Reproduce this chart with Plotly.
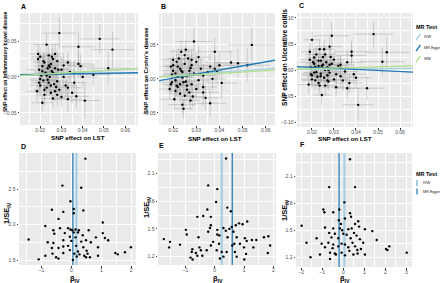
import plotly.graph_objects as go

# ---------------- data: SNP effects (panels A-C) ----------------
snp_lst = [0.0185,0.019,0.0195,0.020,0.020,0.0205,0.021,0.021,0.0215,0.022,
           0.022,0.0225,0.023,0.023,0.0235,0.024,0.024,0.0245,0.025,0.025,
           0.0255,0.026,0.026,0.0265,0.027,0.027,0.0275,0.028,0.028,0.029,
           0.029,0.030,0.030,0.031,0.032,0.033,0.033,0.034,0.035,0.036,
           0.037,0.038,0.038,0.039,0.040,0.041,0.045,0.048,0.052,0.054,
           0.019,0.020,0.021,0.022,0.023,0.024,0.025,0.026,0.027,0.028,
           0.0195,0.0215,0.0235,0.0255,0.0275,0.0285,0.031,0.033,0.036,0.0245]
se_lst = [0.005,0.004,0.006,0.005,0.004,0.006,0.005,0.004,0.006,0.005,
          0.004,0.005,0.006,0.004,0.005,0.006,0.005,0.004,0.006,0.005,
          0.004,0.006,0.005,0.004,0.006,0.005,0.004,0.006,0.005,0.008,
          0.005,0.006,0.005,0.006,0.005,0.007,0.006,0.007,0.006,0.007,
          0.006,0.008,0.007,0.006,0.007,0.007,0.008,0.009,0.010,0.010,
          0.004,0.005,0.004,0.005,0.004,0.005,0.004,0.005,0.004,0.005,
          0.004,0.005,0.004,0.005,0.004,0.005,0.005,0.006,0.006,0.004]
ibd = [-0.020,0.025,0.010,-0.012,0.028,0.002,-0.036,0.015,-0.005,0.020,
       -0.025,0.006,0.045,-0.015,0.012,-0.008,0.030,0.000,-0.022,0.018,
       0.008,-0.030,0.025,-0.010,0.012,-0.020,0.004,0.022,-0.006,0.061,
       -0.018,0.010,-0.028,0.016,-0.012,-0.031,-0.015,0.007,-0.022,0.005,
       -0.027,0.042,0.018,0.015,0.000,-0.033,0.003,0.053,0.012,0.038,
       0.032,-0.003,0.008,-0.018,0.002,0.016,-0.012,0.006,0.032,-0.025,
       -0.008,0.022,-0.004,0.028,-0.014,0.010,0.000,0.020,-0.008,0.014]
se_ibd = [0.015,0.012,0.014,0.016,0.013,0.015,0.012,0.014,0.016,0.013,
          0.015,0.014,0.016,0.012,0.015,0.013,0.014,0.016,0.012,0.015,
          0.014,0.013,0.015,0.012,0.016,0.014,0.013,0.015,0.012,0.022,
          0.014,0.016,0.013,0.015,0.014,0.018,0.016,0.017,0.015,0.018,
          0.016,0.020,0.018,0.016,0.018,0.025,0.015,0.020,0.022,0.025,
          0.013,0.015,0.012,0.014,0.013,0.015,0.012,0.014,0.013,0.015,
          0.012,0.014,0.013,0.015,0.012,0.014,0.016,0.015,0.017,0.013]
cd = [-0.015,0.018,-0.005,0.012,0.020,-0.030,0.008,-0.018,0.025,0.003,
      -0.012,0.030,0.015,-0.022,0.040,-0.038,0.010,-0.005,0.022,-0.025,
      0.043,0.005,-0.010,0.030,-0.020,0.012,-0.032,0.020,-0.008,0.055,
      0.008,-0.015,0.025,-0.002,0.015,-0.020,0.005,-0.028,0.010,-0.036,
      0.000,0.040,0.015,0.010,0.020,-0.006,0.024,0.023,0.020,0.050,
      -0.008,0.028,-0.002,0.018,-0.008,0.002,0.035,-0.016,0.006,0.028,
      0.006,-0.010,0.012,-0.004,0.016,-0.026,0.032,-0.012,0.018,-0.044]
se_cd = [0.016,0.014,0.015,0.017,0.013,0.016,0.014,0.015,0.017,0.014,
         0.016,0.015,0.017,0.013,0.016,0.014,0.015,0.017,0.013,0.016,
         0.015,0.014,0.016,0.013,0.017,0.015,0.014,0.016,0.013,0.020,
         0.015,0.017,0.014,0.016,0.015,0.019,0.017,0.018,0.016,0.020,
         0.017,0.020,0.019,0.017,0.019,0.022,0.018,0.021,0.024,0.026,
         0.014,0.016,0.013,0.015,0.014,0.016,0.013,0.015,0.014,0.016,
         0.013,0.015,0.014,0.016,0.013,0.015,0.017,0.016,0.018,0.014]
uc = [-0.028,0.020,0.005,-0.010,0.058,0.015,-0.005,0.012,-0.020,0.030,
      0.002,-0.013,0.008,-0.025,0.040,0.018,-0.007,-0.048,0.010,0.025,
      -0.015,0.000,-0.030,0.015,-0.010,0.005,-0.022,0.045,-0.005,0.066,
      0.012,-0.018,0.020,-0.033,0.008,-0.012,0.004,-0.020,-0.003,0.015,
      -0.025,0.035,0.028,-0.008,-0.015,-0.067,-0.035,0.069,0.016,0.034,
      0.035,-0.018,0.024,-0.004,0.018,-0.012,0.003,0.030,-0.020,0.010,
      -0.008,0.006,-0.030,0.040,0.000,0.025,-0.008,0.010,-0.035,0.008]
se_uc = [0.018,0.016,0.017,0.019,0.015,0.018,0.016,0.017,0.019,0.016,
         0.018,0.017,0.019,0.015,0.018,0.016,0.017,0.019,0.015,0.018,
         0.017,0.016,0.018,0.015,0.019,0.017,0.016,0.018,0.015,0.025,
         0.017,0.019,0.016,0.018,0.017,0.021,0.019,0.020,0.018,0.022,
         0.019,0.022,0.021,0.019,0.021,0.030,0.024,0.025,0.026,0.028,
         0.016,0.018,0.015,0.017,0.016,0.018,0.015,0.017,0.016,0.018,
         0.015,0.017,0.016,0.018,0.015,0.017,0.019,0.018,0.020,0.016]

# MR estimates per outcome (IBD, CD, UC)
ivw_beta = [0.17, 0.24, 0.05]
egger_beta = [0.05, 0.60, -0.20]
egger_int = [0.0025, -0.011, 0.009]
wm_beta = [0.18, 0.20, 0.12]

# ---------------- data: funnel plots (panels D-F) ----------------
d_beta = [0.47,-0.30,0.33,-0.03,-0.65,-0.27,0.08,0.40,0.08,-0.43,1.05,-0.87,-0.38,-0.11,
          -0.60,-0.03,0.03,0.14,0.25,0.58,-0.57,-0.22,0.08,0.22,0.38,1.05,0.82,-0.05,0.14,
          -1.43,-0.79,-0.60,-0.27,0.00,0.33,0.49,0.65,1.12,1.23,-0.65,-0.43,-0.27,-0.11,
          0.16,0.40,0.89,-0.05,0.22,0.51,-0.63,-0.27,0.10,0.27,0.54,1.47,1.55,1.79,1.99,
          -0.87,-0.51,-0.43,0.18,0.43,0.49,0.89,-1.09,0.05,0.62]
d_prec = [2.93,2.55,2.52,2.33,2.21,2.18,2.22,2.20,2.16,2.08,2.03,1.98,1.95,1.95,
          1.92,1.93,1.92,1.93,1.92,1.92,1.87,1.88,1.89,1.89,1.85,1.88,1.82,1.83,1.82,
          1.79,1.75,1.74,1.78,1.77,1.76,1.78,1.75,1.81,1.78,1.67,1.67,1.69,1.70,
          1.70,1.68,1.68,1.64,1.62,1.63,1.59,1.60,1.59,1.58,1.59,1.60,1.58,1.61,1.68,
          1.56,1.54,1.52,1.55,1.56,1.54,1.56,1.51,1.50,1.54]
e_beta = [0.39,-0.22,0.09,0.05,0.43,-0.25,0.55,-0.13,-0.59,-0.39,1.11,0.83,0.95,0.72,
          -0.13,-0.16,-0.98,-0.95,-0.22,0.09,0.38,0.50,0.30,0.58,0.64,0.09,0.16,-0.55,
          0.44,0.75,1.03,1.09,1.27,1.42,1.83,1.68,-1.73,-1.52,-1.55,-1.18,-0.05,0.15,
          0.60,0.67,0.86,1.00,1.89,1.32,-0.76,-0.52,-0.47,-0.27,-0.13,0.07,0.24,0.41,
          0.69,1.07,1.81,-0.78,-0.64,-0.59,-0.42,-0.82,-0.75,0.18,0.30,1.01,0.75]
e_prec = [2.26,1.97,1.93,1.79,1.73,1.71,1.69,1.63,1.63,1.64,1.58,1.56,1.55,1.54,
          1.54,1.51,1.49,1.44,1.47,1.49,1.48,1.50,1.51,1.52,1.47,1.44,1.43,1.41,
          1.41,1.41,1.40,1.37,1.38,1.38,1.42,1.41,1.39,1.36,1.30,1.33,1.36,1.34,
          1.32,1.34,1.34,1.30,1.32,1.30,1.28,1.30,1.27,1.27,1.32,1.27,1.25,1.25,
          1.25,1.23,1.24,1.25,1.24,1.21,1.21,1.19,1.17,1.18,1.20,1.17,1.20]
f_beta = [0.32,-0.67,0.56,0.05,-0.95,-0.90,-0.48,-0.19,0.32,-0.21,0.08,0.37,-0.11,0.71,
          0.56,-1.98,-0.87,-0.48,-0.16,-0.05,0.24,0.40,0.75,1.03,1.38,-0.67,-0.40,0.00,
          0.16,0.51,0.63,-1.27,-0.56,-0.24,0.35,0.79,1.59,-1.75,-1.03,-0.71,-0.48,-0.08,
          0.08,0.44,0.95,-0.87,-0.51,-0.24,0.24,0.56,0.29,0.67,0.84,2.03,2.10,2.19,
          -0.63,-0.40,-0.08,0.48,0.68,1.03,-1.11,-1.56,-0.63,-0.35,3.02,0.08]
f_prec = [2.29,1.98,1.98,1.81,1.73,1.70,1.70,1.73,1.69,1.61,1.63,1.65,1.57,1.60,
          1.57,1.55,1.53,1.52,1.52,1.50,1.51,1.52,1.54,1.51,1.49,1.47,1.46,1.46,
          1.45,1.47,1.44,1.41,1.42,1.41,1.41,1.40,1.39,1.36,1.35,1.36,1.34,1.35,
          1.34,1.36,1.36,1.31,1.30,1.32,1.31,1.32,1.27,1.28,1.29,1.29,1.28,1.32,
          1.25,1.24,1.25,1.23,1.24,1.23,1.23,1.20,1.18,1.23,1.25,1.22]

top_titles = ["SNP effect on Inflammatory bowel disease", "SNP effect on Crohn's disease",
              "SNP effect on Ulcerative colitis"]
top_xtitle = "SNP effect on LST"
panel_letters = ["A", "B", "C", "D", "E", "F"]
top_yticks = [[-0.05, 0.00, 0.05], [-0.05, 0.00, 0.05], [-0.10, -0.05, 0.00, 0.05, 0.10]]
top_xticks = [0.02, 0.03, 0.04, 0.05, 0.06]
bot_yticks = [[1.5, 2.0, 2.5], [1.2, 1.5, 1.8, 2.1], [1.2, 1.5, 1.8, 2.1]]
bot_xticks = [[-1, 0, 1, 2], [-1, 0, 1, 2], [-2, -1, 0, 1, 2, 3]]

# ---------------- styling / layout ----------------
W, H = 440, 283
C_IVW, C_EGG, C_WM = "#A6CEE3", "#1F78B4", "#B2DF8A"
FONT = "Liberation Sans, Arial, sans-serif"

top_boxes = [(20, 138, 13, 125), (159, 275, 13, 125), (297, 413, 13, 127)]
bot_boxes = [(19, 136, 153, 265), (158, 276, 153, 265), (296, 412, 153, 267)]
top_xr = [(0.0105, 0.066), (0.0139, 0.064), (0.0132, 0.0659)]
top_yr = [(-0.067, 0.089), (-0.068, 0.097), (-0.1096, 0.1096)]
bot_xr = [(-1.75, 2.16), (-1.93, 2.09), (-2.25, 3.27)]
bot_yr = [(1.43, 3.01), (1.11, 2.32), (1.09, 2.36)]
# text placement (pixels)
top_xt_pos = [(78, 137), (215, 138), (345, 139)]
top_yt_pos = [(5, 62, 5.0), (146, 71, 6.0), (284, 58, 6.6)]
bot_xt_pos = [(75, 279), (218, 279), (345, 279)]
bot_yt_pos = [(7, 213), (147, 207), (285, 210)]
letter_pos = [(19, 6), (159, 6), (297, 5), (19, 146), (157, 145), (298, 144)]

def xd(l, r):
    return [l / W, r / W]

def yd(t, b):
    return [1 - b / H, 1 - t / H]

def px(x):
    return x / W

def py(y):
    return 1 - y / H

fig = go.Figure()
layout = dict(width=W, height=H, margin=dict(l=0, r=0, t=0, b=0, autoexpand=False),
              paper_bgcolor="white", plot_bgcolor="#EBEBEB", showlegend=False,
              font=dict(family=FONT, color="#000000"))
annotations, shapes = [], []

def txt(text, x, y, size, angle=0, xanchor="center", color="#000000"):
    annotations.append(dict(text=text, x=px(x), y=py(y), xref="paper", yref="paper",
                            showarrow=False, textangle=angle, xanchor=xanchor,
                            yanchor="middle", font=dict(size=size, color=color)))

def axis_style(domain, rng, ticks, minor_dt, anchor, fmt=None, standoff=0):
    ax = dict(domain=domain, range=list(rng), anchor=anchor, tickvals=ticks,
              showgrid=True, gridcolor="white", gridwidth=1, zeroline=False,
              showline=False, ticks="outside", ticklen=1.5, tickwidth=0.6,
              tickcolor="#333333", tickfont=dict(size=5, color="#4D4D4D"),
              automargin=False, ticklabelstandoff=standoff,
              minor=dict(tickvals=minor_dt, showgrid=True, gridcolor="white",
                         gridwidth=0.4, ticks=""))
    if fmt:
        ax["tickformat"] = fmt
    return ax

def minors(ticks, rng):
    step = ticks[1] - ticks[0]
    out = []
    v = ticks[0] - step / 2
    while v > rng[0]:
        out.append(v); v -= step
    for t in ticks:
        out.append(t + step / 2)
    return [m for m in out if rng[0] < m < rng[1]]

outcomes = [ibd, cd, uc]
ses = [se_ibd, se_cd, se_uc]
for i in range(3):
    n = i + 1
    xa, ya = ("x" if n == 1 else f"x{n}"), ("y" if n == 1 else f"y{n}")
    l, r, t, b = top_boxes[i]
    layout["xaxis" if n == 1 else f"xaxis{n}"] = axis_style(
        xd(l, r), top_xr[i], top_xticks, minors(top_xticks, top_xr[i]), ya, ".2f", -2)
    layout["yaxis" if n == 1 else f"yaxis{n}"] = axis_style(
        yd(t, b), top_yr[i], top_yticks[i], minors(top_yticks[i], top_yr[i]), xa, ".2f")
    fig.add_trace(go.Scatter(
        x=snp_lst, y=outcomes[i], mode="markers", xaxis=xa, yaxis=ya,
        marker=dict(size=2.4, color="black"),
        error_x=dict(type="data", array=se_lst, color="rgba(150,150,150,0.45)",
                     thickness=0.9, width=0),
        error_y=dict(type="data", array=ses[i], color="rgba(150,150,150,0.45)",
                     thickness=0.9, width=0)))
    x0, x1 = top_xr[i]
    for slope, icpt, col in [(ivw_beta[i], 0.0, C_IVW), (egger_beta[i], egger_int[i], C_EGG),
                             (wm_beta[i], 0.0, C_WM)]:
        fig.add_trace(go.Scatter(x=[x0, x1], y=[icpt + slope * x0, icpt + slope * x1],
                                 mode="lines", xaxis=xa, yaxis=ya,
                                 line=dict(color=col, width=1.3), cliponaxis=True))
    tx, ty = top_xt_pos[i]
    txt(f"<b>{top_xtitle}</b>", tx, ty, 6.2)
    yx, yy, ys = top_yt_pos[i]
    txt(f"<b>{top_titles[i]}</b>", yx, yy, ys, angle=-90)
    lx, ly = letter_pos[i]
    txt(f"<b>{panel_letters[i]}</b>", lx, ly, 7, xanchor="left")

bot_b = [d_beta, e_beta, f_beta]
bot_p = [d_prec, e_prec, f_prec]
for i in range(3):
    n = i + 4
    xa, ya = f"x{n}", f"y{n}"
    l, r, t, b = bot_boxes[i]
    layout[f"xaxis{n}"] = axis_style(xd(l, r), bot_xr[i], bot_xticks[i],
                                     minors(bot_xticks[i], bot_xr[i]), ya, None, -2)
    layout[f"yaxis{n}"] = axis_style(yd(t, b), bot_yr[i], bot_yticks[i],
                                     minors(bot_yticks[i], bot_yr[i]), xa, ".1f")
    y0, y1 = bot_yr[i]
    fig.add_trace(go.Scatter(x=[ivw_beta[i], ivw_beta[i]], y=[y0, y1], mode="lines",
                             xaxis=xa, yaxis=ya, line=dict(color=C_IVW, width=2.2)))
    fig.add_trace(go.Scatter(x=[egger_beta[i], egger_beta[i]], y=[y0, y1], mode="lines",
                             xaxis=xa, yaxis=ya, line=dict(color=C_EGG, width=1.2)))
    fig.add_trace(go.Scatter(x=bot_b[i], y=bot_p[i], mode="markers", xaxis=xa, yaxis=ya,
                             marker=dict(size=2.4, color="black")))
    bx, by = bot_xt_pos[i]
    txt("<b>β<sub>IV</sub></b>", bx, by, 7.5)
    vx, vy = bot_yt_pos[i]
    txt("<b>1/SE<sub>IV</sub></b>", vx, vy, 7.5, angle=-90)
    lx, ly = letter_pos[i + 3]
    txt(f"<b>{panel_letters[i + 3]}</b>", lx, ly, 7, xanchor="left")

# legends (drawn manually, one per row)
txt("<b>MR Test</b>", 414, 27, 5.5, xanchor="left")
for k, (lab, col) in enumerate([("IVW", C_IVW), ("MR Egger", C_EGG), ("WM", C_WM)]):
    yc = 37 + k * 11
    shapes.append(dict(type="line", xref="paper", yref="paper",
                       x0=px(416), x1=px(420.5), y0=py(yc + 3), y1=py(yc - 3),
                       line=dict(color=col, width=1.3)))
    txt(lab, 422, yc, 3.8, xanchor="left", color="#222222")
txt("<b>MR Test</b>", 414, 174, 5.5, xanchor="left")
for k, (lab, col, w) in enumerate([("IVW", C_IVW, 2.0), ("MR Egger", C_EGG, 1.2)]):
    yc = 183 + k * 8.5
    shapes.append(dict(type="line", xref="paper", yref="paper",
                       x0=px(417), x1=px(417), y0=py(yc + 3), y1=py(yc - 3),
                       line=dict(color=col, width=w)))
    txt(lab, 421, yc, 3.8, xanchor="left", color="#222222")

layout["annotations"] = annotations
layout["shapes"] = shapes
fig.update_layout(**layout)
fig.write_html("out.html", config={"displayModeBar": False},
               post_script="document.body.style.margin='0';"
               "document.documentElement.style.overflow='hidden';")
